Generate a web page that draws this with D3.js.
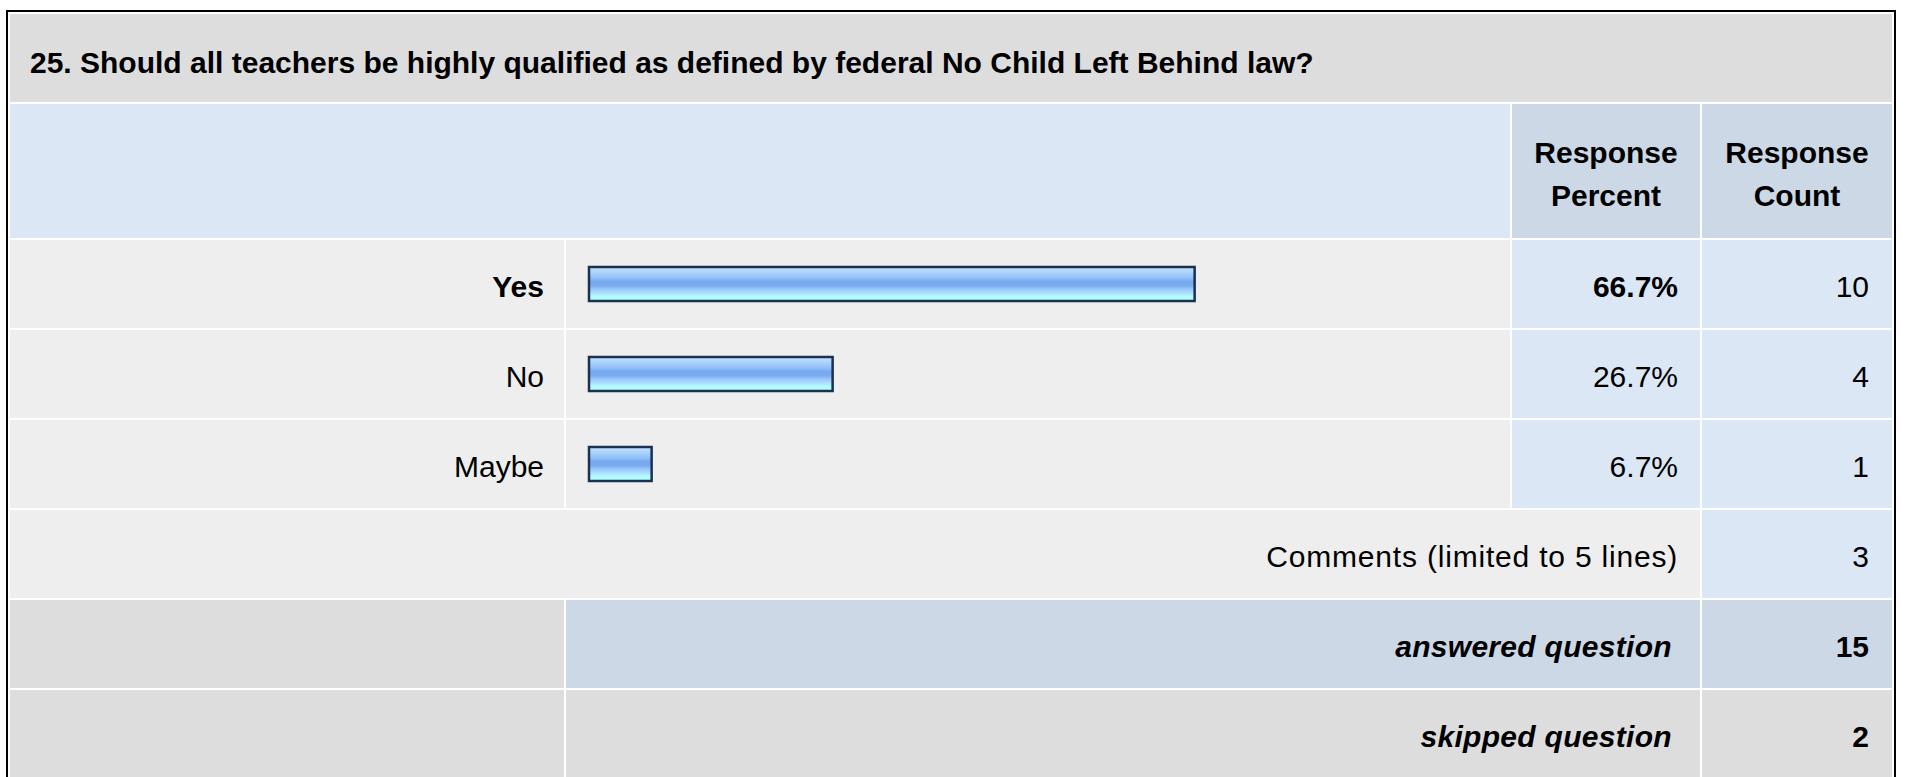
<!DOCTYPE html>
<html lang="en">
  <head>
    <meta charset="UTF-8" />
    <title>Question 25</title>
    <style>
      html, body { margin: 0; padding: 0; background: #fff; }
      svg { display: block; font-family: "Liberation Sans", Arial, sans-serif; }
    </style>
  </head>
  <body>
    <div id="wrapper"></div>
    <script src="https://d3js.org/d3.v7.min.js"></script>
    <script>
      // survey data
      const question = "25. Should all teachers be highly qualified as defined by federal No Child Left Behind law?";
      const headerPercent = ["Response", "Percent"];
      const headerCount = ["Response", "Count"];
      const answers = ["Yes", "No", "Maybe"];
      const percents = [66.7, 26.7, 6.7];
      const counts = [10, 4, 1];
      const commentsLabel = "Comments (limited to 5 lines)";
      const commentsCount = 3;
      const summaryLabels = ["answered question", "skipped question"];
      const summaryCounts = [15, 2];

      const W = 1907, H = 777;
      const fs = 30;

      // columns
      const colLabel = [10, 564], colBar = [566, 1510], colPct = [1512, 1700], colCnt = [1702, 1892];

      const svg = d3.select("#wrapper").append("svg")
        .attr("width", W).attr("height", H);

      // gradient for the bars
      const grad = svg.append("defs").append("linearGradient")
        .attr("id", "barGrad").attr("x1", 0).attr("x2", 0).attr("y1", 0).attr("y2", 1);
      [[0, "#cce4fb"], [0.18, "#a6d0fb"], [0.32, "#90c0f6"], [0.42, "#78a9ef"], [0.55, "#7aabf0"],
       [0.65, "#98c8fb"], [0.78, "#aee2ff"], [0.86, "#b2fbff"], [1, "#b0ffff"]]
        .forEach(s => grad.append("stop").attr("offset", s[0]).attr("stop-color", s[1]));

      // outer border
      svg.append("rect").attr("x", 7).attr("y", 11).attr("width", 1888).attr("height", 800)
        .attr("fill", "#fff").attr("stroke", "#000").attr("stroke-width", 2);

      function cell(x0, x1, y, h, fill) {
        svg.append("rect").attr("x", x0).attr("y", y).attr("width", x1 - x0).attr("height", h).attr("fill", fill);
      }
      function label(x, y, txt, anchor, weight, style, spacing) {
        svg.append("text").attr("x", x).attr("y", y).attr("text-anchor", anchor || "end")
          .attr("font-size", fs).attr("font-weight", weight || "normal")
          .attr("font-style", style || "normal")
          .attr("letter-spacing", spacing || 0)
          .attr("fill", "#000").text(txt);
      }

      // title row
      cell(colLabel[0], colCnt[1], 14, 88, "#dddddd");
      label(30, 73, question, "start", "bold");

      // header row
      cell(colLabel[0], colBar[1], 104, 134, "#dce7f5");
      cell(colPct[0], colPct[1], 104, 134, "#ccd8e5");
      cell(colCnt[0], colCnt[1], 104, 134, "#ccd8e5");
      headerPercent.forEach((t, i) => label((colPct[0] + colPct[1]) / 2, 163 + i * 43, t, "middle", "bold"));
      headerCount.forEach((t, i) => label((colCnt[0] + colCnt[1]) / 2, 163 + i * 43, t, "middle", "bold"));

      // rows
      const rowKeys = answers.concat(["comments"], summaryLabels);
      const y = d3.scaleBand().domain(rowKeys).range([240, 778]).paddingInner(2 / 90);
      const x = d3.scaleLinear().domain([0, 100]).range([0, 905]);
      const base = k => y(k) + y.bandwidth() / 2 + 13;
      const maxPct = d3.max(percents);

      answers.forEach((a, i) => {
        const bold = percents[i] === maxPct ? "bold" : "normal";
        cell(colLabel[0], colLabel[1], y(a), y.bandwidth(), "#eeeeee");
        cell(colBar[0], colBar[1], y(a), y.bandwidth(), "#eeeeee");
        cell(colPct[0], colPct[1], y(a), y.bandwidth(), "#dce7f5");
        cell(colCnt[0], colCnt[1], y(a), y.bandwidth(), "#dce7f5");
        label(colLabel[1] - 20, base(a), a, "end", bold);
        label(colPct[1] - 22, base(a), percents[i].toFixed(1) + "%", "end", bold);
        label(colCnt[1] - 23, base(a), counts[i], "end");
      });

      // bars
      svg.append("g").selectAll("rect").data(answers).join("rect")
        .attr("x", 589)
        .attr("y", d => y(d) + y.bandwidth() / 2 - 17)
        .attr("width", (d, i) => x(percents[i]) + 2)
        .attr("height", 34)
        .attr("fill", "url(#barGrad)")
        .attr("stroke", "#1b3152").attr("stroke-width", 2.5);

      // comments row
      cell(colLabel[0], colPct[1], y("comments"), y.bandwidth(), "#eeeeee");
      cell(colCnt[0], colCnt[1], y("comments"), y.bandwidth(), "#dce7f5");
      label(colPct[1] - 22, base("comments"), commentsLabel, "end", "normal", "normal", 0.8);
      label(colCnt[1] - 23, base("comments"), commentsCount, "end");

      // summary rows
      const sumFill = ["#ccd8e5", "#dddddd"];
      summaryLabels.forEach((s, i) => {
        cell(colLabel[0], colLabel[1], y(s), y.bandwidth(), "#dddddd");
        cell(colBar[0], colPct[1], y(s), y.bandwidth(), sumFill[i]);
        cell(colCnt[0], colCnt[1], y(s), y.bandwidth(), sumFill[i]);
        label(colPct[1] - 28, base(s), s, "end", "bold", "italic", 0.3);
        label(colCnt[1] - 23, base(s), summaryCounts[i], "end", "bold");
      });
    </script>
  </body>
</html>
